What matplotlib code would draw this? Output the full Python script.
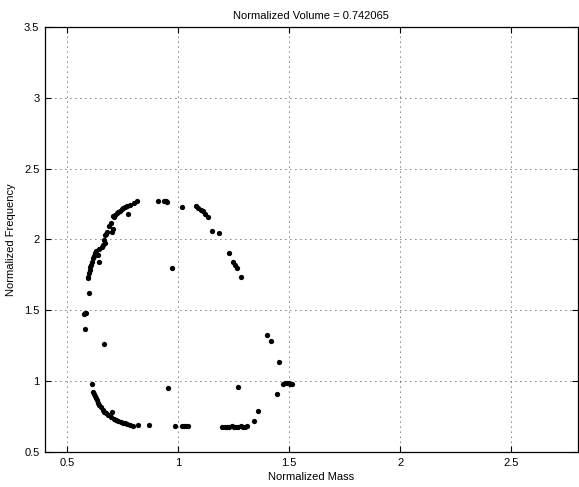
import matplotlib
matplotlib.use("Agg")
import matplotlib.pyplot as plt

# points (normalized mass, normalized frequency)
upper_x = [0.594, 0.594, 0.598, 0.603, 0.603, 0.608, 0.612, 0.616, 0.620, 0.643, 0.625, 0.630,
           0.639, 0.643, 0.657, 0.662, 0.670, 0.666, 0.670, 0.676, 0.679, 0.702, 0.706, 0.688,
           0.697, 0.706, 0.711, 0.716, 0.724, 0.730, 0.738, 0.745, 0.751, 0.760, 0.769, 0.774,
           0.783, 0.801, 0.814]
upper_y = [1.728, 1.735, 1.763, 1.784, 1.806, 1.822, 1.841, 1.869, 1.880, 1.841, 1.904, 1.915,
           1.890, 1.933, 1.947, 1.960, 1.975, 1.996, 2.031, 2.040, 2.053, 2.053, 2.074, 2.095,
           2.116, 2.166, 2.158, 2.170, 2.187, 2.195, 2.201, 2.212, 2.222, 2.228, 2.236, 2.180,
           2.243, 2.257, 2.271]

top_x = [0.909, 0.936, 0.945, 0.950, 1.017, 1.080, 1.089, 1.103, 1.112, 1.121, 1.134, 1.152,
         1.184, 1.229, 1.247, 1.256, 1.265, 1.283]
top_y = [2.271, 2.271, 2.268, 2.265, 2.229, 2.236, 2.222, 2.208, 2.200, 2.180, 2.158, 2.060,
         2.046, 1.904, 1.841, 1.820, 1.798, 1.735]

side_x = [0.972, 1.400, 1.418, 1.454, 1.472, 1.481, 1.490, 1.499, 1.504, 1.513,
          0.598, 0.576, 0.580, 0.585, 0.580, 0.666, 0.954, 1.269]
side_y = [1.798, 1.326, 1.283, 1.135, 0.980, 0.987, 0.990, 0.985, 0.980, 0.980,
          1.622, 1.474, 1.478, 1.481, 1.368, 1.262, 0.952, 0.959]

lower_x = [0.612, 0.616, 0.620, 0.625, 0.630, 0.634, 0.639, 0.645, 0.652, 0.661, 0.668, 0.675,
           0.684, 0.702, 0.697, 0.711, 0.720, 0.729, 0.742, 0.751, 0.760, 0.769, 0.783, 0.796,
           0.819, 0.868]
lower_y = [0.980, 0.923, 0.908, 0.895, 0.880, 0.867, 0.846, 0.832, 0.818, 0.796, 0.785, 0.775,
           0.761, 0.782, 0.747, 0.733, 0.726, 0.719, 0.712, 0.705, 0.701, 0.698, 0.691, 0.683,
           0.691, 0.691]

bottom_x = [0.986, 1.017, 1.026, 1.035, 1.044, 1.197, 1.210, 1.220, 1.229, 1.242, 1.250, 1.260,
            1.270, 1.283, 1.290, 1.300, 1.310, 1.341, 1.359, 1.445]
bottom_y = [0.683, 0.683, 0.683, 0.683, 0.683, 0.676, 0.676, 0.676, 0.676, 0.683, 0.676, 0.676,
            0.676, 0.683, 0.676, 0.676, 0.683, 0.719, 0.789, 0.909]

xticks = [0.5, 1, 1.5, 2, 2.5]
yticks = [0.5, 1, 1.5, 2, 2.5, 3, 3.5]

plt.rcParams['font.family'] = ['Liberation Sans', 'DejaVu Sans']
plt.rcParams['font.size'] = 8

fig = plt.figure(figsize=(5.79, 4.87), dpi=100)
ax = fig.add_axes([0.0777, 0.0719, 0.920, 0.873])

for xs, ys in [(upper_x, upper_y), (top_x, top_y), (side_x, side_y),
               (lower_x, lower_y), (bottom_x, bottom_y)]:
    ax.plot(xs, ys, 'o', color='black', markersize=3.8, markeredgewidth=0)

ax.set_xlim(0.4, 2.8)
ax.set_ylim(0.5, 3.5)
ax.set_xticks(xticks)
ax.set_yticks(yticks)
ax.set_xticklabels([('%g' % v) for v in xticks])
ax.set_yticklabels([('%g' % v) for v in yticks])
ax.grid(True, linestyle=(0, (1, 5)), color='black', linewidth=0.6)
ax.tick_params(direction='in', top=True, right=True, length=4, width=0.8, pad=4)
for s in ax.spines.values():
    s.set_linewidth(0.9)

ax.set_title("Normalized Volume = 0.742065", fontsize=8, pad=6)
ax.set_xlabel("Normalized Mass", fontsize=8, labelpad=3)
ax.set_ylabel("Normalized Frequency", fontsize=8, labelpad=6)

fig.savefig("out.png", dpi=100)
